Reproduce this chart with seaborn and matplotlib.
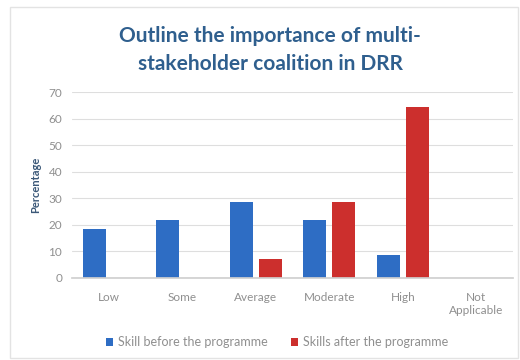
import matplotlib
matplotlib.use("Agg")
import matplotlib.pyplot as plt
import seaborn as sns
import pandas as pd
from matplotlib.patches import Rectangle

categories = ["Low", "Some", "Average", "Moderate", "High", "Not\nApplicable"]
series_names = ["Skill before the programme", "Skills after the programme"]
before = [18.5, 22.0, 28.8, 22.0, 8.5, 0.0]
after = [0.0, 0.0, 7.1, 28.6, 64.3, 0.0]
y_ticks = [0, 10, 20, 30, 40, 50, 60, 70]
title = "Outline the importance of multi-\nstakeholder coalition in DRR"

df = pd.DataFrame({
    "category": categories * 2,
    "value": before + after,
    "series": [series_names[0]] * len(categories) + [series_names[1]] * len(categories),
})

sns.set_theme(style="white")
plt.rcParams["font.family"] = ["Lato", "DejaVu Sans"]

fig = plt.figure(figsize=(5.2, 3.6), dpi=100)
fig.patches.append(Rectangle((10 / 520, 2 / 360), 508 / 520, 351 / 360,
                             transform=fig.transFigure, fill=False,
                             edgecolor="#e3e3e3", linewidth=1.0))
ax = fig.add_axes([72 / 520, 1 - 278 / 360, 441 / 520, (278 - 92.3) / 360])

palette = {series_names[0]: "#2e6dc4", series_names[1]: "#cc2f2d"}
sns.barplot(data=df, x="category", y="value", hue="series", order=categories,
            hue_order=series_names, palette=palette, width=0.79, gap=0.2,
            saturation=1, ax=ax, legend=True, linewidth=0)

ax.set_ylim(0, 70)
ax.set_yticks(y_ticks)
ax.yaxis.grid(True, color="#dedede", linewidth=0.8)
ax.set_axisbelow(True)
for s in ["top", "right", "left"]:
    ax.spines[s].set_visible(False)
ax.spines["bottom"].set_color("#d0d0d0")
ax.tick_params(axis="both", length=0, labelsize=8.5, labelcolor="#8f8f8f")
ax.tick_params(axis="y", pad=7)
ax.tick_params(axis="x", pad=10)
ax.set_xlabel("")
ax.set_ylabel("Percentage", fontsize=8, fontweight="bold", color="#3b5878", labelpad=5)

fig.text(270 / 520, 1 - 50 / 360, title, ha="center", va="center",
         fontsize=15, fontweight="bold", color="#2f5f8e", linespacing=1.5)

handles, labels = ax.get_legend_handles_labels()
ax.legend(handles, labels, loc="center", bbox_to_anchor=(277 / 520, 1 - 342 / 360),
          bbox_transform=fig.transFigure, ncol=2, frameon=False, fontsize=9,
          labelcolor="#8f8f8f", handlelength=0.6, handleheight=0.6,
          handletextpad=0.4, columnspacing=1.8)

fig.savefig("out.png", dpi=100)
